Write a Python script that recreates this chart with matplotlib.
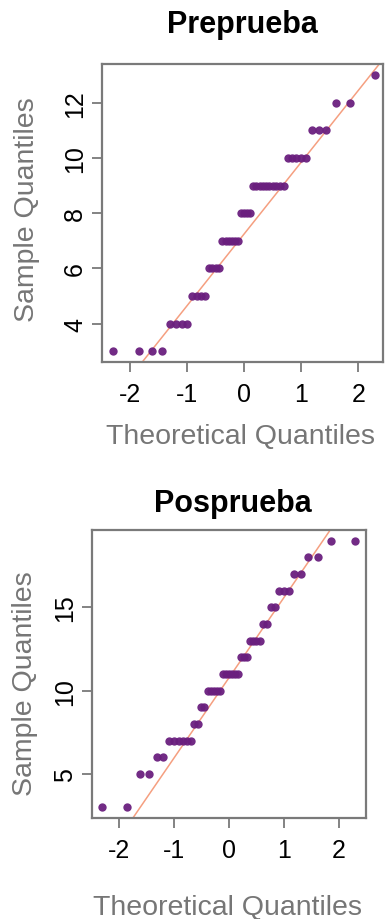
import matplotlib
matplotlib.use("Agg")
import matplotlib.pyplot as plt
import numpy as np
from statistics import NormalDist

# ---- data: sample values (sorted) ----
pre_values = [3]*4 + [4]*4 + [5]*4 + [6]*4 + [7]*6 + [8]*4 + [9]*10 + [10]*5 + [11]*3 + [12]*2 + [13]*1
post_values = [3]*2 + [5]*2 + [6]*2 + [7]*6 + [8]*2 + [9]*2 + [10]*5 + [11]*6 + [12]*3 + [13]*4 + [14]*2 + [15]*2 + [16]*3 + [17]*2 + [18]*2 + [19]*2

titles = ["Preprueba", "Posprueba"]
pre_yticks = [4, 6, 8, 10, 12]
post_yticks = [5, 10, 15]
xticks = [-2, -1, 0, 1, 2]

plt.rcParams['font.family'] = ['Liberation Sans', 'DejaVu Sans']

POINT_COLOR = "#6a1f7e"
LINE_COLOR = "#f59f80"
SPINE_COLOR = "#7a7a7a"
LABEL_COLOR = "#767676"


def theoretical(n):
    a = 0.5 if n > 10 else 3.0 / 8
    nd = NormalDist()
    return np.array([nd.inv_cdf((i - a) / (n + 1 - 2 * a)) for i in range(1, n + 1)])


def qqpanel(ax, values, title, yticks, xlim, ylim, title_xy, xlabel_xy, ylabel_xy):
    y = np.sort(np.array(values, dtype=float))
    x = theoretical(len(y))
    ax.plot(x, y, 'o', color=POINT_COLOR, ms=6.0, mec=POINT_COLOR, mew=0, alpha=0.95, zorder=3)
    q1, q3 = np.quantile(y, [0.25, 0.75])
    z1, z3 = NormalDist().inv_cdf(0.25), NormalDist().inv_cdf(0.75)
    slope = (q3 - q1) / (z3 - z1)
    inter = q1 - slope * z1
    ax.axline((0, inter), slope=slope, color=LINE_COLOR, lw=1.1, zorder=2)
    ax.set_xlim(*xlim)
    ax.set_ylim(*ylim)
    ax.set_xticks(xticks)
    ax.set_xticklabels([str(t) for t in xticks])
    ax.set_yticks(yticks)
    ax.set_yticklabels([str(t) for t in yticks], rotation=90, va='center')
    for s in ax.spines.values():
        s.set_color(SPINE_COLOR)
        s.set_linewidth(1.6)
    ax.tick_params(axis='both', length=7.5, width=1.3, color=SPINE_COLOR, labelsize=18, labelcolor='black')
    ax.tick_params(axis='x', pad=7)
    ax.tick_params(axis='y', pad=3)
    ax.set_title(title, fontsize=22, fontweight='bold', x=title_xy[0], y=title_xy[1], va='baseline', pad=0)
    ax.set_xlabel("Theoretical Quantiles", fontsize=20.5, color=LABEL_COLOR)
    ax.set_ylabel("Sample Quantiles", fontsize=20.5, color=LABEL_COLOR)
    ax.xaxis.label.set_va('center')
    ax.yaxis.label.set_va('center')
    ax.xaxis.set_label_coords(*xlabel_xy)
    ax.yaxis.set_label_coords(*ylabel_xy)


W, H = 386, 920
fig = plt.figure(figsize=(W / 100, H / 100), dpi=100)


def px_axes(left, top, right, bottom):
    return fig.add_axes([left / W, (H - bottom) / H, (right - left) / W, (bottom - top) / H])


ax1 = px_axes(101.7, 65, 383, 363.3)
qqpanel(ax1, pre_values, titles[0], pre_yticks,
        xlim=(-2.50, 2.435), ylim=(2.6, 13.4),
        title_xy=(0.502, 1.106), xlabel_xy=(0.493, -0.246), ylabel_xy=(-0.2656, 0.514))

ax2 = px_axes(91.7, 531, 365.7, 819)
qqpanel(ax2, post_values, titles[1], post_yticks,
        xlim=(-2.49, 2.49), ylim=(2.36, 19.64),
        title_xy=(0.517, 1.067), xlabel_xy=(0.496, -0.309), ylabel_xy=(-0.2435, 0.471))

fig.savefig("out.png", dpi=100)
